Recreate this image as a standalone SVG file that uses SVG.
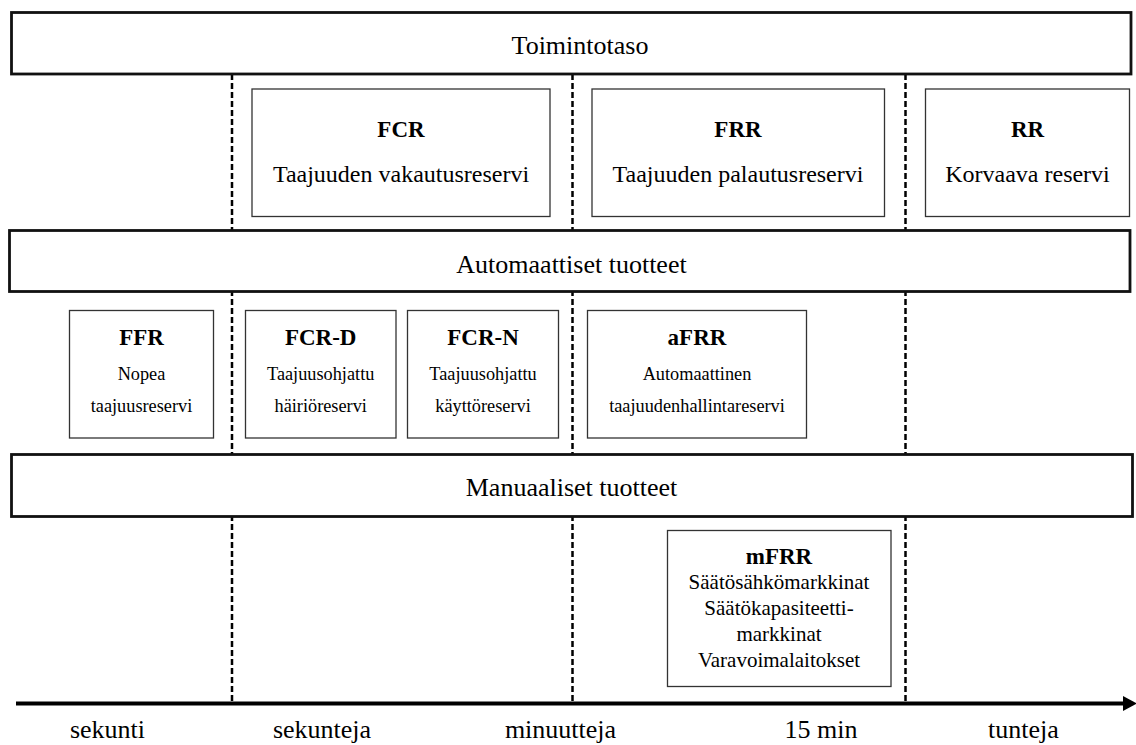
<svg xmlns="http://www.w3.org/2000/svg" width="1136" height="745" viewBox="0 0 1136 745">
  <style>
    text { font-family: 'Liberation Serif', 'Times New Roman', serif; fill: #000; text-anchor: middle; }
    .bar { fill: #fff; stroke: #111; stroke-width: 2.8; }
    .box { fill: #fff; stroke: #333; stroke-width: 1.3; }
    .divider { stroke: #000; stroke-width: 2.5; stroke-dasharray: 6 3; fill: none; }
    .barlabel { font-size: 26px; }
    .title { font-size: 23px; font-weight: bold; }
    .big { font-size: 24px; }
    .small { font-size: 18.3px; }
    .mid { font-size: 21px; }
    .axislabel { font-size: 26px; }
  </style>
  <defs>
    <marker id="arrow" markerWidth="14" markerHeight="15" refX="0" refY="7.5" orient="auto" markerUnits="userSpaceOnUse">
      <polygon points="0,0 14,7.5 0,15" fill="#000"/>
    </marker>
  </defs>

  <rect width="1136" height="745" fill="#fff"/>

  <!-- time-scale dividers and axis -->
  <g id="connectors">
    <line class="divider" x1="232" y1="74" x2="232" y2="702"/>
    <line class="divider" x1="572.5" y1="74" x2="572.5" y2="702"/>
    <line class="divider" x1="905.5" y1="74" x2="905.5" y2="702"/>
    <line x1="16" y1="703.5" x2="1123" y2="703.5" stroke="#000" stroke-width="4" marker-end="url(#arrow)"/>
  </g>

  <!-- level bars -->
  <g id="toimintotaso">
    <rect class="bar" x="11.5" y="12.5" width="1119.5" height="61.5"/>
    <text class="barlabel" x="580" y="54">Toimintotaso</text>
  </g>
  <g id="automaattiset">
    <rect class="bar" x="9.5" y="230.5" width="1120.5" height="61"/>
    <text class="barlabel" x="571.5" y="273">Automaattiset tuotteet</text>
  </g>
  <g id="manuaaliset">
    <rect class="bar" x="11.5" y="454.5" width="1121" height="62"/>
    <text class="barlabel" x="571.5" y="496">Manuaaliset tuotteet</text>
  </g>

  <!-- reserve categories -->
  <g id="fcr">
    <rect class="box" x="252" y="89" width="298" height="127.5"/>
    <text class="title" x="401" y="137">FCR</text>
    <text class="big" x="401" y="182">Taajuuden vakautusreservi</text>
  </g>
  <g id="frr">
    <rect class="box" x="592" y="89" width="292.5" height="127.5"/>
    <text class="title" x="738" y="137">FRR</text>
    <text class="big" x="738" y="182">Taajuuden palautusreservi</text>
  </g>
  <g id="rr">
    <rect class="box" x="925.5" y="89" width="204" height="127.5"/>
    <text class="title" x="1027.5" y="137">RR</text>
    <text class="big" x="1027.5" y="182">Korvaava reservi</text>
  </g>

  <!-- automatic products -->
  <g id="ffr">
    <rect class="box" x="69.5" y="310.5" width="144" height="127.5"/>
    <text class="title" x="141.5" y="345">FFR</text>
    <text class="small" x="141.5" y="380">Nopea</text>
    <text class="small" x="141.5" y="412">taajuusreservi</text>
  </g>
  <g id="fcr-d">
    <rect class="box" x="245.5" y="310.5" width="150.5" height="127.5"/>
    <text class="title" x="320.7" y="345">FCR-D</text>
    <text class="small" x="320.7" y="380">Taajuusohjattu</text>
    <text class="small" x="320.7" y="412">häiriöreservi</text>
  </g>
  <g id="fcr-n">
    <rect class="box" x="407.5" y="310.5" width="151" height="127.5"/>
    <text class="title" x="483" y="345">FCR-N</text>
    <text class="small" x="483" y="380">Taajuusohjattu</text>
    <text class="small" x="483" y="412">käyttöreservi</text>
  </g>
  <g id="afrr">
    <rect class="box" x="587.5" y="310.5" width="219" height="127.5"/>
    <text class="title" x="697" y="345">aFRR</text>
    <text class="small" x="697" y="380">Automaattinen</text>
    <text class="small" x="697" y="412">taajuudenhallintareservi</text>
  </g>

  <!-- manual products -->
  <g id="mfrr">
    <rect class="box" x="667.5" y="530.5" width="223.5" height="156"/>
    <text class="title" x="779" y="564">mFRR</text>
    <text class="mid" x="779" y="589">Säätösähkömarkkinat</text>
    <text class="mid" x="779" y="615">Säätökapasiteetti-</text>
    <text class="mid" x="779" y="641">markkinat</text>
    <text class="mid" x="779" y="667">Varavoimalaitokset</text>
  </g>

  <!-- time scale labels -->
  <g id="axis-labels">
    <text class="axislabel" x="107.5" y="738">sekunti</text>
    <text class="axislabel" x="322" y="738">sekunteja</text>
    <text class="axislabel" x="560.5" y="738">minuutteja</text>
    <text class="axislabel" x="821" y="738">15 min</text>
    <text class="axislabel" x="1023.5" y="738">tunteja</text>
  </g>
</svg>
